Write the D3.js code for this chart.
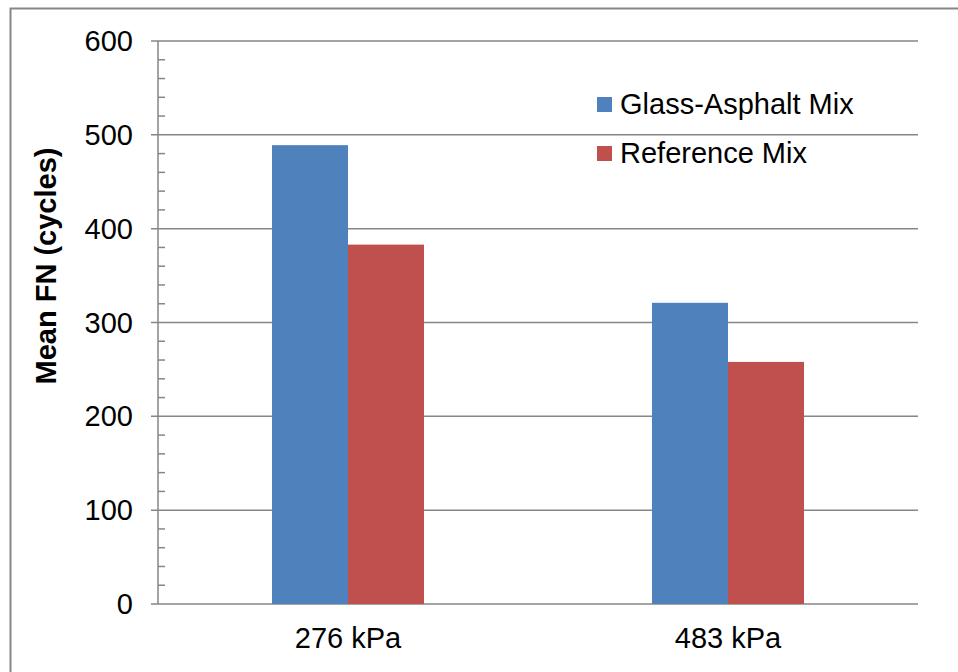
<!DOCTYPE html>
<html>
<head>
<meta charset="utf-8">
<script src="https://cdn.jsdelivr.net/npm/d3@7"></script>
<style>
  body { margin: 0; background: #fff; }
  text { font-family: "Liberation Sans", Arial, sans-serif; }
</style>
</head>
<body>
<div id="chart"></div>
<script>
// ===== Données =====
const categories = ["276 kPa", "483 kPa"];
const seriesNames = ["Glass-Asphalt Mix", "Reference Mix"];
const glassValues = [489, 321];
const referenceValues = [383, 258];
const yTicks = [0, 100, 200, 300, 400, 500, 600];

const colors = ["#4F81BD", "#C0504D"];
const gridColor = "#868686";

const W = 958, H = 672;
const margin = { top: 41, right: 40, bottom: 68, left: 158 };
const width = W - margin.left - margin.right;
const height = H - margin.top - margin.bottom;

const svg = d3.select("#chart").append("svg")
  .attr("width", W)
  .attr("height", H);

// ===== Cadre extérieur =====
svg.append("rect")
  .attr("x", 10.5).attr("y", 8.5)
  .attr("width", W + 20).attr("height", H + 20)
  .attr("fill", "none")
  .attr("stroke", gridColor)
  .attr("stroke-width", 2);

const g = svg.append("g")
  .attr("transform", `translate(${margin.left},${margin.top})`);

const y = d3.scaleLinear().domain([0, 600]).range([height, 0]);
const x0 = d3.scaleBand()
  .domain(categories)
  .range([0, width])
  .paddingInner(0.6)
  .paddingOuter(0.3);
const x1 = d3.scaleBand()
  .domain(seriesNames)
  .range([0, x0.bandwidth()]);

// ===== Grille =====
g.selectAll(".grid")
  .data(yTicks)
  .enter().append("line")
  .attr("x1", -7).attr("x2", width)
  .attr("y1", d => y(d)).attr("y2", d => y(d))
  .attr("stroke", gridColor)
  .attr("stroke-width", 1.5);

// ticks mineurs (tous les 20)
const minor = d3.range(0, 600, 20).filter(d => d % 100 !== 0);
g.selectAll(".minor")
  .data(minor)
  .enter().append("line")
  .attr("x1", 0).attr("x2", 7)
  .attr("y1", d => y(d)).attr("y2", d => y(d))
  .attr("stroke", gridColor)
  .attr("stroke-width", 1.5);

// ===== Barres =====
const rows = categories.map((c, i) => ({
  cat: c,
  vals: [glassValues[i], referenceValues[i]]
}));

g.selectAll(".grp")
  .data(rows)
  .enter().append("g")
  .attr("transform", d => `translate(${x0(d.cat)},0)`)
  .selectAll("rect")
  .data(d => d.vals.map((v, j) => ({ name: seriesNames[j], v, j })))
  .enter().append("rect")
  .attr("x", d => x1(d.name))
  .attr("y", d => y(d.v))
  .attr("width", x1.bandwidth())
  .attr("height", d => height - y(d.v))
  .attr("fill", d => colors[d.j]);

// ===== Axes =====
g.append("line")
  .attr("x1", 0).attr("x2", 0)
  .attr("y1", 0).attr("y2", height)
  .attr("stroke", gridColor)
  .attr("stroke-width", 1.5);

g.selectAll(".ylab")
  .data(yTicks)
  .enter().append("text")
  .attr("x", -25)
  .attr("y", d => y(d) + 10)
  .attr("text-anchor", "end")
  .attr("font-size", 29)
  .text(d => d);

g.selectAll(".xlab")
  .data(categories)
  .enter().append("text")
  .attr("x", d => x0(d) + x0.bandwidth() / 2)
  .attr("y", height + 44)
  .attr("text-anchor", "middle")
  .attr("font-size", 29)
  .text(d => d);

svg.append("text")
  .attr("transform", `translate(56,266) rotate(-90)`)
  .attr("text-anchor", "middle")
  .attr("font-size", 29)
  .attr("font-weight", "bold")
  .text("Mean FN (cycles)");

// ===== Légende =====
const legend = svg.selectAll(".leg")
  .data(seriesNames)
  .enter().append("g")
  .attr("transform", (d, i) => `translate(597,${97 + i * 49})`);

legend.append("rect")
  .attr("width", 15).attr("height", 15)
  .attr("fill", (d, i) => colors[i]);

legend.append("text")
  .attr("x", 23).attr("y", 17)
  .attr("font-size", 29)
  .text(d => d);
</script>
</body>
</html>
